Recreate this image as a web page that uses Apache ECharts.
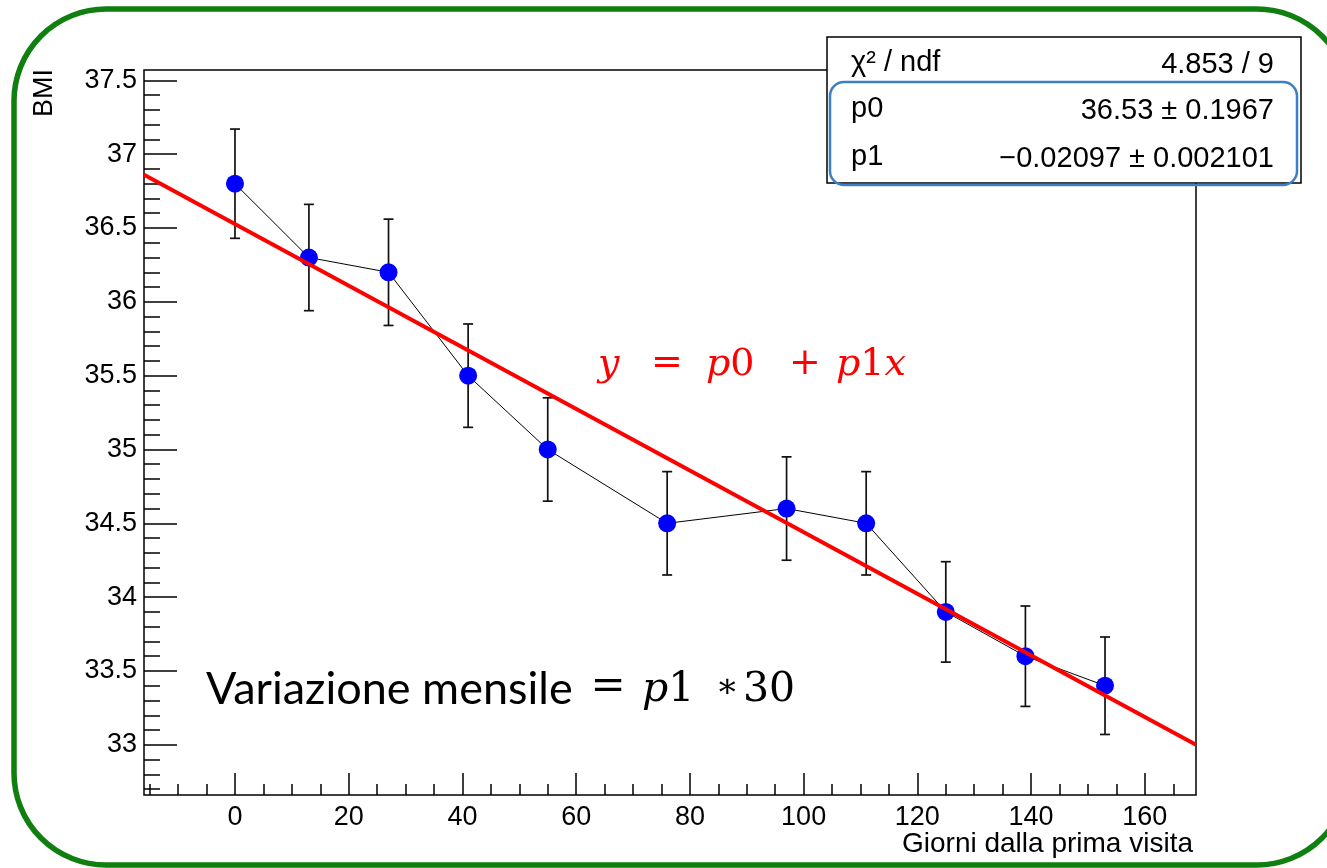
<!DOCTYPE html>
<html><head><meta charset="utf-8">
<script src="https://cdn.jsdelivr.net/npm/echarts@6/dist/echarts.min.js"></script>
<style>html,body{margin:0;padding:0;background:#fff;} #c{width:1327px;height:868px;}</style>
</head><body><div id="c"></div>
<script>
// ---- data ----
const days   = [0, 13, 27, 41, 55, 76, 97, 111, 125, 139, 153];
const bmi    = [36.8, 36.3, 36.2, 35.5, 35.0, 34.5, 34.6, 34.5, 33.9, 33.6, 33.4];
const bmiErr = [0.37, 0.36, 0.36, 0.35, 0.35, 0.35, 0.35, 0.35, 0.34, 0.34, 0.33];
const fitX   = [-16, 169];
const fitY   = [36.86, 33.0];
const xTicks = [0, 20, 40, 60, 80, 100, 120, 140, 160];
const yTicks = [33, 33.5, 34, 34.5, 35, 35.5, 36, 36.5, 37, 37.5];
const statNames  = ['χ² / ndf', 'p0', 'p1'];
const statValues = ['4.853 / 9', '36.53 ± 0.1967', '−0.02097 ± 0.002101'];

const xMin = -16, xMax = 169, yMin = 32.66, yMax = 37.57;
const xMinor = [], yMinor = [];
for (let v = -15; v <= 165; v += 5) if (v % 20 !== 0) xMinor.push(v);
for (let k = 327; k <= 375; k++) { if (k % 5 !== 0) yMinor.push(k / 10); }

const AX_FONT = '"Liberation Sans", Arial, Helvetica, sans-serif';
const SERIF = '"DejaVu Serif", "Liberation Serif", serif';
const tickLine = {color: '#000', width: 1.5};
const noLine = {show: false, onZero: false};

const chart = echarts.init(document.getElementById('c'), null, {renderer: 'canvas'});

function mathText(x, y, text, color, size, align, rich) {
  return {type: 'text', z: 11, style: {
    x: x, y: y, text: text, align: align || 'left', verticalAlign: 'middle',
    fill: color, fontSize: size, fontFamily: SERIF, rich: rich
  }};
}
const redRich = {
  i: {fontFamily: SERIF, fontStyle: 'italic', fontSize: 38, fill: '#ff0000'},
  n: {fontFamily: SERIF, fontSize: 38, fill: '#ff0000'}
};
const blkRich = {
  i: {fontFamily: SERIF, fontStyle: 'italic', fontSize: 41, fill: '#000'},
  n: {fontFamily: SERIF, fontSize: 41, fill: '#000'}
};

const option = {
  animation: false,
  backgroundColor: '#fff',
  grid: {left: 144, top: 70, right: 131, bottom: 73, show: true, borderColor: '#000', borderWidth: 1.5,
         backgroundColor: 'transparent', outerBoundsMode: 'none', containLabel: false},
  xAxis: [{
    type: 'value', min: xMin, max: xMax, position: 'bottom',
    axisLine: noLine, splitLine: {show: false},
    axisTick: {show: true, inside: true, length: 22, customValues: xTicks, lineStyle: tickLine},
    axisLabel: {show: true, customValues: xTicks, margin: 9, color: '#000', fontSize: 27, fontFamily: AX_FONT},
    name: 'Giorni dalla prima visita', nameLocation: 'end', nameGap: 0, nameMoveOverlap: false,
    nameTextStyle: {fontSize: 28, fontFamily: AX_FONT, color: '#000', align: 'right', verticalAlign: 'top', padding: [35, 3, 0, 0]}
  }, {
    type: 'value', min: xMin, max: xMax, position: 'bottom',
    axisLine: noLine, splitLine: {show: false}, axisLabel: {show: false},
    axisTick: {show: true, inside: true, length: 11, customValues: xMinor, lineStyle: tickLine}
  }],
  yAxis: [{
    type: 'value', min: yMin, max: yMax, position: 'left',
    axisLine: noLine, splitLine: {show: false},
    axisTick: {show: true, inside: true, length: 33, customValues: yTicks, lineStyle: tickLine},
    axisLabel: {show: true, customValues: yTicks, margin: 7, color: '#000', fontSize: 27, fontFamily: AX_FONT},
    name: 'BMI', nameLocation: 'end', nameGap: 1, nameRotate: 90, nameMoveOverlap: false,
    nameTextStyle: {fontSize: 27, fontFamily: AX_FONT, color: '#000', align: 'right', verticalAlign: 'bottom', padding: [0, 0, 86, 0]}
  }, {
    type: 'value', min: yMin, max: yMax, position: 'left', offset: 0,
    axisLine: noLine, splitLine: {show: false}, axisLabel: {show: false},
    axisTick: {show: true, inside: true, length: 16, customValues: yMinor, lineStyle: tickLine}
  }],
  series: [{
    type: 'custom', name: 'errors', xAxisIndex: 0, yAxisIndex: 0, z: 2,
    data: days.map((d, i) => [d, bmi[i] - bmiErr[i], bmi[i] + bmiErr[i]]),
    encode: {x: 0, y: [1, 2]},
    renderItem: function (params, api) {
      const x = api.value(0);
      const pLo = api.coord([x, api.value(1)]);
      const pHi = api.coord([x, api.value(2)]);
      const cw = 5;
      const st = {stroke: '#111', lineWidth: 1.7};
      return {type: 'group', children: [
        {type: 'line', shape: {x1: pLo[0], y1: pLo[1], x2: pHi[0], y2: pHi[1]}, style: st},
        {type: 'line', shape: {x1: pLo[0] - cw, y1: pLo[1], x2: pLo[0] + cw, y2: pLo[1]}, style: st},
        {type: 'line', shape: {x1: pHi[0] - cw, y1: pHi[1], x2: pHi[0] + cw, y2: pHi[1]}, style: st}
      ]};
    }
  }, {
    type: 'line', name: 'graph', z: 3, symbol: 'none',
    data: days.map((d, i) => [d, bmi[i]]),
    lineStyle: {color: '#000', width: 1}
  }, {
    type: 'scatter', name: 'BMI', z: 4, symbol: 'circle', symbolSize: 18,
    data: days.map((d, i) => [d, bmi[i]]),
    itemStyle: {color: '#0000ff', opacity: 1}
  }, {
    type: 'line', name: 'fit', z: 5, symbol: 'none',
    data: fitX.map((x, i) => [x, fitY[i]]),
    lineStyle: {color: '#ff0000', width: 4}
  }],
  graphic: [
    {type: 'rect', z: 10, shape: {x: 827, y: 37, width: 474, height: 146},
     style: {fill: '#fff', stroke: '#000', lineWidth: 1.5}},
    {type: 'text', z: 11, style: {text: statNames[0], x: 851, y: 63, fontSize: 29, fontFamily: AX_FONT, fill: '#000', verticalAlign: 'middle'}},
    {type: 'text', z: 11, style: {text: statValues[0], x: 1274, y: 65, fontSize: 29, fontFamily: AX_FONT, fill: '#000', align: 'right', verticalAlign: 'middle'}},
    {type: 'text', z: 11, style: {text: statNames[1], x: 851, y: 109, fontSize: 29, fontFamily: AX_FONT, fill: '#000', verticalAlign: 'middle'}},
    {type: 'text', z: 11, style: {text: statValues[1], x: 1274, y: 111, fontSize: 29, fontFamily: AX_FONT, fill: '#000', align: 'right', verticalAlign: 'middle'}},
    {type: 'text', z: 11, style: {text: statNames[2], x: 851, y: 157, fontSize: 29, fontFamily: AX_FONT, fill: '#000', verticalAlign: 'middle'}},
    {type: 'text', z: 11, style: {text: statValues[2], x: 1274, y: 159, fontSize: 29, fontFamily: AX_FONT, fill: '#000', align: 'right', verticalAlign: 'middle'}},
    {type: 'rect', z: 12, shape: {x: 830, y: 82, width: 467, height: 103, r: 14},
     style: {fill: 'none', stroke: '#3b80c4', lineWidth: 2.5}},
    {type: 'rect', z: 20, shape: {x: 14, y: 9, width: 1335, height: 856, r: 92},
     style: {fill: 'none', stroke: '#0f7f0f', lineWidth: 5.5}},
    // red fit equation
    mathText(598, 365, '{i|y}', '#ff0000', 38, 'left', redRich),
    {type: 'text', z: 11, style: {x: 667, y: 364, text: '=', align: 'center', verticalAlign: 'middle', fill: '#ff0000', fontSize: 38, fontFamily: SERIF}},
    mathText(706, 365, '{i|p}{n|0}', '#ff0000', 38, 'left', redRich),
    {type: 'text', z: 11, style: {x: 805, y: 364, text: '+', align: 'center', verticalAlign: 'middle', fill: '#ff0000', fontSize: 38, fontFamily: SERIF}},
    mathText(836, 365, '{i|p}{n|1}{i|x}', '#ff0000', 38, 'left', redRich),
    // monthly variation note
    {type: 'text', z: 11, style: {x: 206, y: 689, text: 'Variazione mensile', verticalAlign: 'middle', fill: '#000', fontSize: 45, fontFamily: 'Lato, "Open Sans", sans-serif'}},
    {type: 'text', z: 11, style: {x: 608, y: 688, text: '=', align: 'center', verticalAlign: 'middle', fill: '#000', fontSize: 42, fontFamily: SERIF}},
    mathText(642, 690, '{i|p}{n|1}', '#000', 41, 'left', blkRich),
    {type: 'text', z: 11, style: {x: 727, y: 688, text: '∗', align: 'center', verticalAlign: 'middle', fill: '#000', fontSize: 34, fontFamily: SERIF}},
    mathText(743, 690, '{n|30}', '#000', 41, 'left', blkRich)
  ]
};
chart.setOption(option);
</script>
</body></html>
